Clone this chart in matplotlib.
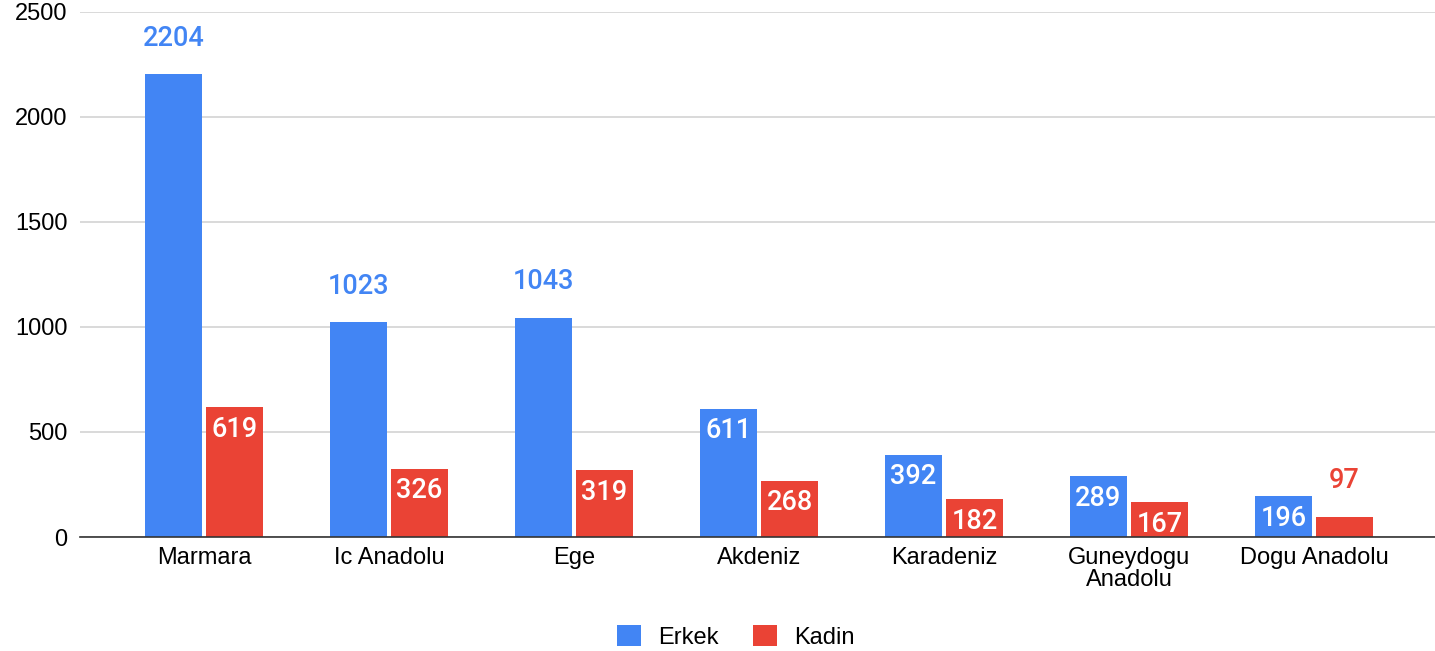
import matplotlib
matplotlib.use("Agg")
import matplotlib.pyplot as plt
import numpy as np

categories = ["Marmara", "Ic Anadolu", "Ege", "Akdeniz", "Karadeniz", "Guneydogu\nAnadolu", "Dogu Anadolu"]
erkek = [2204, 1023, 1043, 611, 392, 289, 196]
kadin = [619, 326, 319, 268, 182, 167, 97]
yticks = [0, 500, 1000, 1500, 2000, 2500]

BLUE = "#4285F4"
RED = "#EA4335"

fig = plt.figure(figsize=(14.35, 6.51), dpi=100)
ax = fig.add_axes([80/1435, 1-537/651, 1-80/1435, (537-12)/651])

x = np.arange(len(categories))
w = 0.305
off = 0.165
b1 = ax.bar(x - off, erkek, w, color=BLUE, label="Erkek", zorder=3)
b2 = ax.bar(x + off, kadin, w, color=RED, label="Kadin", zorder=3)

def label(bars, vals, color):
    for r, v in zip(bars, vals):
        cx = r.get_x() + r.get_width()/2
        if 150 < v < 700:
            ax.annotate(str(v), (cx, v), xytext=(0, -16), textcoords="offset points",
                        ha="center", va="center", color="white", fontsize=19.5,
                        fontfamily="Roboto", fontweight="medium", zorder=4)
        else:
            ax.annotate(str(v), (cx, v), xytext=(0, 26), textcoords="offset points",
                        ha="center", va="center", color=color, fontsize=19.5,
                        fontfamily="Roboto", fontweight="medium", zorder=4)

label(b1, erkek, BLUE)
label(b2, kadin, RED)

ax.set_ylim(0, 2500)
ax.set_xlim(-0.67, 6.654)
ax.set_yticks(yticks)
ax.set_yticklabels([str(t) for t in yticks], fontsize=17, fontfamily="Liberation Sans")
ax.set_xticks(x)
ax.set_xticklabels(categories, fontsize=17, fontfamily="Liberation Sans", linespacing=1.0)
ax.tick_params(axis="x", length=0, pad=7)
ax.tick_params(axis="y", length=0, pad=9)
ax.grid(axis="y", color="#d3d3d3", linewidth=1.2, zorder=0)
for s in ["top", "right", "left"]:
    ax.spines[s].set_visible(False)
ax.spines["bottom"].set_color("#333333")
ax.spines["bottom"].set_linewidth(1.2)
ax.spines["bottom"].set_zorder(5)

fig.legend(handles=[b1, b2], labels=["Erkek", "Kadin"], loc="center",
           bbox_to_anchor=(736/1435, 1-637/651), ncol=2, frameon=False,
           prop={"family": "Liberation Sans", "size": 17},
           handlelength=1.0, handleheight=1.0, columnspacing=1.45, handletextpad=0.75)

fig.savefig("out.png", dpi=100)
